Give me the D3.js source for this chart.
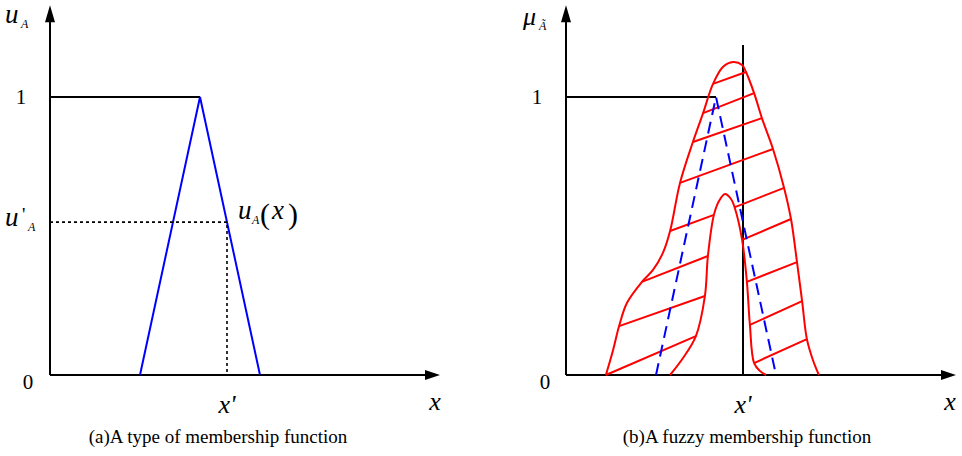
<!DOCTYPE html>
<html lang="en">
<head>
  <meta charset="utf-8">
  <title>membership functions</title>
  <script src="https://cdn.jsdelivr.net/npm/d3@7"></script>
  <style type="text/css">
    body{ margin:0; background:#fff; }
    text{ font-family: "Liberation Serif", "Times New Roman", serif; fill:#000; }
    .it{ font-style: italic; }
  </style>
</head>
<body>
<script type="text/javascript">

    var width = 962;
    var height = 456;

//DATA - x in axis units (0..13), y is membership grade
    var xMax = 13, yMax = 1.33;
    var triangle = [[3, 0], [5, 1], [7, 0]];
    var uPrime = 0.55;
    var xPrime = 5.9;
    var vlineTop = 1.187;

    var outer = [[1.33,0],[1.57,0.09],[1.77,0.176],[2.03,0.259],[2.53,0.335],[2.9,0.378],
        [3.23,0.439],[3.47,0.518],[3.8,0.691],[4.23,0.838],[4.57,0.942],[4.9,1.047],
        [5.23,1.108],[5.57,1.126],[5.87,1.115],[6.0,1.09],[6.27,1.014],[6.53,0.924],
        [6.9,0.813],[7.27,0.673],[7.5,0.561],[7.7,0.406],[7.87,0.266],[8.03,0.129],
        [8.23,0.054],[8.43,0]];

    var inner = [[3.47,0],[3.9,0.061],[4.33,0.14],[4.63,0.284],[4.73,0.428],[4.93,0.576],
        [5.1,0.626],[5.3,0.651],[5.5,0.633],[5.63,0.6],[5.87,0.486],[6.03,0.335],
        [6.13,0.18],[6.27,0.043],[6.47,0.014],[6.67,0]];

    // hatch segments x1,y1,x2,y2
    var hatch = [[4.9,1.047,6.0,1.09],[4.57,0.942,6.27,1.014],[4.23,0.838,6.53,0.924],
        [3.8,0.691,6.9,0.813],[3.47,0.518,4.93,0.576],[2.53,0.335,4.73,0.428],
        [1.77,0.176,4.63,0.284],[1.33,0,4.33,0.14],[5.63,0.604,7.27,0.673],
        [5.87,0.486,7.5,0.561],[6.03,0.335,7.7,0.406],[6.13,0.18,7.87,0.266],
        [6.27,0.043,8.03,0.129]];

    var captions = ["(a)A type of membership function", "(b)A fuzzy membership function"];

    var svg = d3.select("body")
            .append("svg")
            .attr("width", width)
            .attr("height", height);

    var yScale = d3.scaleLinear().domain([0, 1]).range([375, 97]);
    var line = d3.line().x(function(d){ return xS(d[0]); }).y(function(d){ return yScale(d[1]); });
    var xS;

//axes with arrows
function drawAxes(x){
    svg.append("line").attr("x1", x(0)).attr("x2", x(0))
        .attr("y1", yScale(0)).attr("y2", yScale(yMax) + 14)
        .attr("stroke", "#000").attr("stroke-width", 2);
    svg.append("line").attr("x1", x(0)).attr("x2", x(xMax) - 12)
        .attr("y1", yScale(0)).attr("y2", yScale(0))
        .attr("stroke", "#000").attr("stroke-width", 2);
    var tx = x(0), ty = yScale(yMax);
    svg.append("path").attr("d", "M" + tx + "," + ty + "L" + (tx - 5) + "," + (ty + 17) + "L" + (tx + 5) + "," + (ty + 17) + "Z");
    var ax = x(xMax), ay = yScale(0);
    svg.append("path").attr("d", "M" + ax + "," + ay + "L" + (ax - 15) + "," + (ay - 5) + "L" + (ax - 15) + "," + (ay + 5) + "Z");
}

function label(x, y, txt, size, cls, anchor){
    return svg.append("text").attr("x", x).attr("y", y).attr("font-size", size)
        .attr("class", cls || null).attr("text-anchor", anchor || "start").text(txt);
}

//PANEL A
var xA = d3.scaleLinear().domain([0, xMax]).range([50, 440]);
xS = xA;
drawAxes(xA);
svg.append("line").attr("x1", xA(0)).attr("x2", xA(triangle[1][0]))
    .attr("y1", yScale(1)).attr("y2", yScale(1)).attr("stroke", "#000").attr("stroke-width", 2);
svg.append("path").attr("d", line(triangle)).attr("fill", "none")
    .attr("stroke", "#0000ff").attr("stroke-width", 2);
svg.append("path").attr("d", line([[0, uPrime], [xPrime, uPrime], [xPrime, 0]]))
    .attr("fill", "none").attr("stroke", "#000").attr("stroke-width", 1.6).attr("stroke-dasharray", "3,3");

label(5, 23, "u", 27, "it");
label(21, 28, "A", 12, "it");
label(21, yScale(1) + 7, "1", 21, null, "middle");
label(28, yScale(0) + 14, "0", 21, null, "middle");
label(5, yScale(uPrime) + 4, "u", 27, "it");
label(22, yScale(uPrime) - 1, "'", 19, null);
label(28, yScale(uPrime) + 9, "A", 12, "it");
label(238, 219, "u", 27, "it");
label(252, 224, "A", 12, "it");
label(260, 224, "(", 30, null);
label(272, 219, "x", 27, "it");
label(288, 224, ")", 30, null);
label(xA(xPrime), 413, "x'", 26, "it", "middle");
label(xA(xMax) - 5, 410, "x", 26, "it", "middle");
label(218, 443, captions[0], 19, null, "middle");

//PANEL B
var xB = d3.scaleLinear().domain([0, xMax]).range([566, 956]);
xS = xB;
drawAxes(xB);
svg.append("line").attr("x1", xB(0)).attr("x2", xB(triangle[1][0]))
    .attr("y1", yScale(1)).attr("y2", yScale(1)).attr("stroke", "#000").attr("stroke-width", 2);
svg.append("line").attr("x1", xB(xPrime)).attr("x2", xB(xPrime))
    .attr("y1", yScale(0)).attr("y2", yScale(vlineTop)).attr("stroke", "#000").attr("stroke-width", 2);

var curve = d3.line().curve(d3.curveCatmullRom)
    .x(function(d){ return xB(d[0]); }).y(function(d){ return yScale(d[1]); });
svg.append("path").attr("d", curve(outer)).attr("fill", "none")
    .attr("stroke", "#ff0000").attr("stroke-width", 2);
svg.append("path").attr("d", curve(inner)).attr("fill", "none")
    .attr("stroke", "#ff0000").attr("stroke-width", 2);
svg.selectAll(".hatch")
    .data(hatch)
    .enter()
    .append("line")
    .attr("class", "hatch")
    .attr("x1", function(d){ return xB(d[0]); })
    .attr("y1", function(d){ return yScale(d[1]); })
    .attr("x2", function(d){ return xB(d[2]); })
    .attr("y2", function(d){ return yScale(d[3]); })
    .attr("stroke", "#ff0000").attr("stroke-width", 2);
svg.append("path").attr("d", line(triangle)).attr("fill", "none")
    .attr("stroke", "#0000ff").attr("stroke-width", 2).attr("stroke-dasharray", "12,7");

label(523, 25, "\u03bc", 26, "it");
label(539, 30, "A\u0303", 12, "it");
label(537, yScale(1) + 7, "1", 21, null, "middle");
label(545, yScale(0) + 14, "0", 21, null, "middle");
label(xB(xPrime), 413, "x'", 26, "it", "middle");
label(xB(xMax) - 6, 410, "x", 26, "it", "middle");
label(747, 443, captions[1], 19, null, "middle");

</script>
</body>
</html>
